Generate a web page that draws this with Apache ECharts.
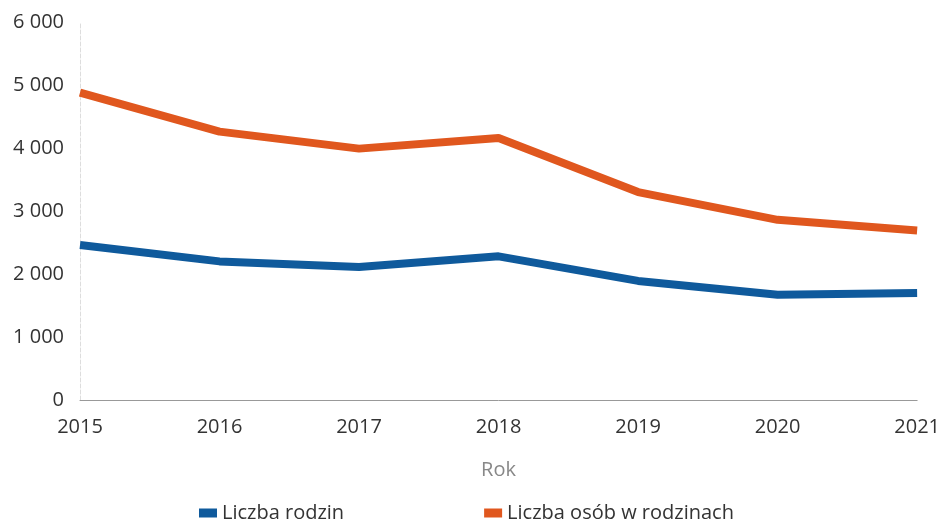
<!DOCTYPE html>
<html>
<head>
<meta charset="utf-8">
<script src="https://cdn.jsdelivr.net/npm/echarts@6/dist/echarts.min.js"></script>
<style>
  html, body { margin: 0; padding: 0; background: #fff; }
  #chart { width: 943px; height: 530px; }
</style>
</head>
<body>
<div id="chart"></div>
<script>
const years = ['2015', '2016', '2017', '2018', '2019', '2020', '2021'];
const families = [2460, 2200, 2110, 2280, 1890, 1670, 1700];
const persons = [4880, 4260, 3990, 4160, 3300, 2860, 2690];

const chart = echarts.init(document.getElementById('chart'));

// thousands separated with a space, Polish style
const fmt = (v) => String(v).replace(/\B(?=(\d{3})+(?!\d))/g, ' ');

chart.setOption({
  animation: false,
  textStyle: { fontFamily: 'Open Sans, sans-serif' },
  grid: { left: 80, right: 23, top: 22, bottom: 130, containLabel: false },
  legend: {
    left: 194,
    bottom: 2,
    icon: 'rect',
    itemWidth: 18,
    itemHeight: 9,
    itemGap: 140,
    textStyle: { fontSize: 20, color: '#333', fontFamily: 'Open Sans, sans-serif' },
    data: ['Liczba rodzin', 'Liczba osób w rodzinach']
  },
  xAxis: {
    type: 'category',
    data: years,
    boundaryGap: false,
    name: 'Rok',
    nameLocation: 'middle',
    nameGap: 60,
    nameTextStyle: { fontSize: 20, color: '#888' },
    axisLine: { lineStyle: { color: '#999', width: 1 } },
    axisTick: { show: false },
    axisLabel: { fontSize: 20, color: '#333', margin: 17 }
  },
  yAxis: {
    type: 'value',
    min: 0,
    max: 6000,
    interval: 1000,
    axisLine: { show: true, lineStyle: { color: '#ddd', type: 'dashed' } },
    axisTick: { show: false },
    splitLine: { show: false },
    axisLabel: { fontSize: 20, color: '#333', margin: 16, formatter: fmt }
  },
  series: [
    {
      name: 'Liczba rodzin',
      type: 'line',
      data: families,
      showSymbol: false,
      lineStyle: { width: 8, color: '#0f5a9c' },
      itemStyle: { color: '#0f5a9c' }
    },
    {
      name: 'Liczba osób w rodzinach',
      type: 'line',
      data: persons,
      showSymbol: false,
      lineStyle: { width: 8, color: '#e0571e' },
      itemStyle: { color: '#e0571e' }
    }
  ]
});
</script>
</body>
</html>
